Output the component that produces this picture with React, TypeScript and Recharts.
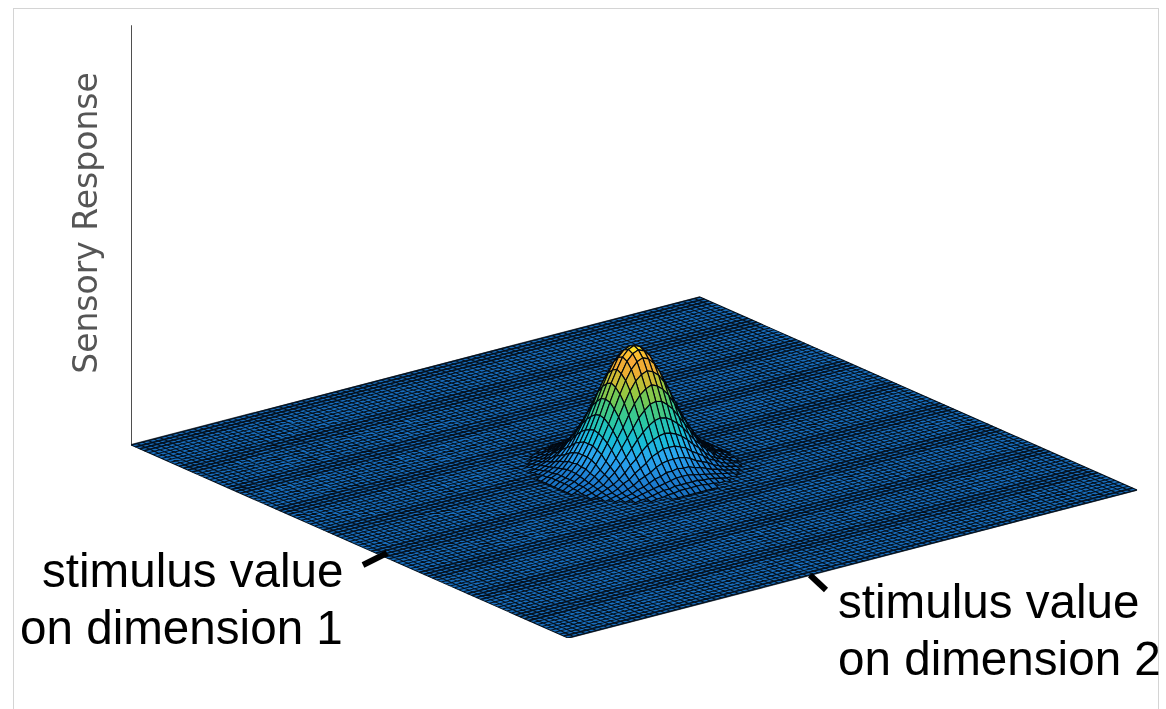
import { ComposedChart, Line, ReferenceLine, Scatter, XAxis, YAxis } from "recharts";

// Response in percent of the peak, one quadrant of the bump around the plane's centre.
// Row and column are the grid steps away from the centre on each stimulus dimension.
const responseQuadrant = [
  [100, 98, 93, 84, 74, 62, 50, 39, 29, 21, 15, 10, 6, 4, 1],
  [98, 96, 91, 82, 72, 61, 49, 38, 29, 21, 14, 10, 6, 4, 1],
  [93, 91, 86, 78, 68, 57, 46, 36, 27, 20, 14, 9, 6, 4, 1],
  [84, 82, 78, 71, 62, 52, 42, 33, 25, 18, 12, 8, 5, 3, 1],
  [74, 72, 68, 62, 54, 45, 37, 29, 21, 15, 11, 7, 5, 3, 1],
  [62, 61, 57, 52, 45, 38, 31, 24, 18, 13, 9, 6, 4, 2, 1],
  [50, 49, 46, 42, 37, 31, 25, 20, 15, 11, 7, 5, 3, 2, 1],
  [39, 38, 36, 33, 29, 24, 20, 15, 11, 8, 6, 4, 2, 1, 1],
  [29, 29, 27, 25, 21, 18, 15, 11, 9, 6, 4, 3, 2, 1, 1],
  [21, 21, 20, 18, 15, 13, 11, 8, 6, 4, 3, 2, 1, 1, 0],
  [15, 14, 14, 12, 11, 9, 7, 6, 4, 3, 2, 1, 1, 1, 0],
  [10, 10, 9, 8, 7, 6, 5, 4, 3, 2, 1, 1, 1, 0, 0],
  [6, 6, 6, 5, 5, 4, 3, 2, 2, 1, 1, 1, 0, 0, 0],
  [4, 4, 4, 3, 3, 2, 2, 1, 1, 1, 1, 0, 0, 0, 0],
  [1, 1, 1, 1, 1, 1, 1, 1, 1, 0, 0, 0, 0, 0, 0],
];

const gridSteps = 100;
const axisTopResponse = 344;

// the saved figure shows darker bands across the mesh, lines in this repeat are the dark ones
const bandRepeat = [1, 1, 1, 1, 0, 0, 0, 0, 0, 0, 0];

// colour scale of the surface: [response, r, g, b]
const colorStops = [
  [0, 24, 110, 190],
  [8, 28, 122, 206],
  [17, 38, 152, 232],
  [25, 42, 168, 238],
  [35, 24, 188, 216],
  [50, 44, 200, 160],
  [62, 96, 200, 96],
  [72, 168, 200, 56],
  [82, 232, 176, 48],
  [92, 248, 168, 56],
  [100, 255, 238, 32],
];

// orthographic projection of (dim1, dim2, response) to the chart's data space
const project = (d1: number, d2: number, z = 0) => ({
  x: 5.69 * d1 + 4.37 * d2,
  y: 193 + 1.48 * d1 - 1.93 * d2 + 1.22 * z,
});

const responseAt = (d1: number, d2: number) => {
  const a = Math.abs(d1 - gridSteps / 2);
  const b = Math.abs(d2 - gridSteps / 2);
  return a < responseQuadrant.length && b < responseQuadrant.length ? responseQuadrant[a][b] : 0;
};

const colorFor = (z: number) => {
  const k = colorStops.findIndex((s) => s[0] >= z);
  if (k <= 0) return `rgb(${colorStops[0].slice(1).join(",")})`;
  const lo = colorStops[k - 1];
  const hi = colorStops[k];
  const t = (z - lo[0]) / (hi[0] - lo[0]);
  return `rgb(${[1, 2, 3].map((c) => Math.round(lo[c] + (hi[c] - lo[c]) * t)).join(",")})`;
};

const withOffsets = (corners: { x: number; y: number }[], extra = {}) => ({
  x: corners[0].x,
  y: corners[0].y,
  offsets: corners.map((c) => [c.x - corners[0].x, c.y - corners[0].y]),
  ...extra,
});

const planeData = [
  withOffsets([project(0, 0), project(gridSteps, 0), project(gridSteps, gridSteps), project(0, gridSteps)], {
    fill: colorFor(0),
  }),
];

// one path per series, the null rows break it between mesh lines
const meshData: { x: number; y: number | null }[] = [];
const bandData: { x: number; y: number | null }[] = [];
for (let k = 0; k <= gridSteps; k++) {
  const across = [project(k, 0), project(k, gridSteps)];
  const along = [project(0, k), project(gridSteps, k)];
  meshData.push(across[0], across[1], { x: across[1].x, y: null });
  meshData.push(along[0], along[1], { x: along[1].x, y: null });
  if (bandRepeat[k % bandRepeat.length]) {
    bandData.push(along[0], along[1], { x: along[1].x, y: null });
  }
}

const bumpData: any[] = [];
const reach = responseQuadrant.length - 1;
for (let i = gridSteps / 2 - reach; i < gridSteps / 2 + reach; i++) {
  for (let j = gridSteps / 2 - reach; j < gridSteps / 2 + reach; j++) {
    const cell = [
      [i, j],
      [i + 1, j],
      [i + 1, j + 1],
      [i, j + 1],
    ];
    const heights = cell.map(([a, b]) => responseAt(a, b));
    const mean = (heights[0] + heights[1] + heights[2] + heights[3]) / 4;
    if (mean < 2) continue;
    bumpData.push({
      ...withOffsets(cell.map(([a, b], n) => project(a, b, heights[n])), { fill: colorFor(mean) }),
      depth: project(i + 0.5, j + 0.5).y,
    });
  }
}
bumpData.sort((a, b) => b.depth - a.depth);

const axisData = [project(0, 0), project(0, 0, axisTopResponse)];

const CellShape = (props: any) => {
  const { cx, cy, payload } = props;
  const points = payload.offsets.map(([dx, dy]: number[]) => `${cx + dx},${cy - dy}`).join(" ");
  return <polygon points={points} fill={payload.fill} stroke={props.edge} strokeWidth={props.edgeWidth} />;
};

const labelStyle = { fontFamily: "Liberation Sans", fontSize: 47.6, fill: "#000" };

export default function App() {
  return (
    <div style={{ position: "absolute", left: 0, top: 0, width: 1166, height: 709, overflow: "hidden", background: "#fff" }}>
      <div
        style={{
          position: "absolute",
          left: 13,
          top: 8,
          width: 1144,
          height: 710,
          border: "1px solid #d4d4d4",
        }}
      />
      <div style={{ position: "absolute", left: 0, top: 0, filter: "blur(0.5px)" }}>
        <ComposedChart width={1166} height={709} margin={{ top: 25, right: 28, bottom: 71, left: 131 }}>
          <XAxis type="number" dataKey="x" domain={[0, 1007]} hide allowDataOverflow />
          <YAxis type="number" dataKey="y" domain={[0, 613]} hide allowDataOverflow />
          <Line
            data={axisData}
            dataKey="y"
            stroke="#222"
            strokeWidth={1.6}
            dot={false}
            isAnimationActive={false}
            zIndex={1}
          />
          <Scatter
            data={planeData}
            shape={<CellShape edge="none" edgeWidth={0} />}
            isAnimationActive={false}
            zIndex={2}
          />
          <Line
            data={meshData}
            dataKey="y"
            stroke="#04101c"
            strokeWidth={1.05}
            dot={false}
            connectNulls={false}
            isAnimationActive={false}
            zIndex={3}
          />
          <Line
            data={bandData}
            dataKey="y"
            stroke="#04101c"
            strokeOpacity={0.7}
            strokeWidth={1.7}
            dot={false}
            connectNulls={false}
            isAnimationActive={false}
            zIndex={3}
          />
          <Scatter
            data={bumpData}
            shape={<CellShape edge="#020810" edgeWidth={1.15} />}
            isAnimationActive={false}
            zIndex={4}
          />
          <ReferenceLine
            segment={[{ x: 232, y: 73 }, { x: 256, y: 85 }]}
            stroke="#000"
            strokeWidth={6}
            ifOverflow="visible"
            zIndex={5}
          />
          <ReferenceLine
            segment={[{ x: 679, y: 63 }, { x: 695, y: 48 }]}
            stroke="#000"
            strokeWidth={6}
            ifOverflow="visible"
            zIndex={5}
          />
          <text transform="translate(97 223) rotate(-90)" textAnchor="middle" fontFamily="DejaVu Sans" fontSize={33} fill="#555">
            Sensory Response
          </text>
          <text x={42} y={587} {...labelStyle}>stimulus value</text>
          <text x={20} y={644} {...labelStyle}>on dimension 1</text>
          <text x={838} y={618} {...labelStyle}>stimulus value</text>
          <text x={838} y={675} {...labelStyle}>on dimension 2</text>
        </ComposedChart>
      </div>
    </div>
  );
}
